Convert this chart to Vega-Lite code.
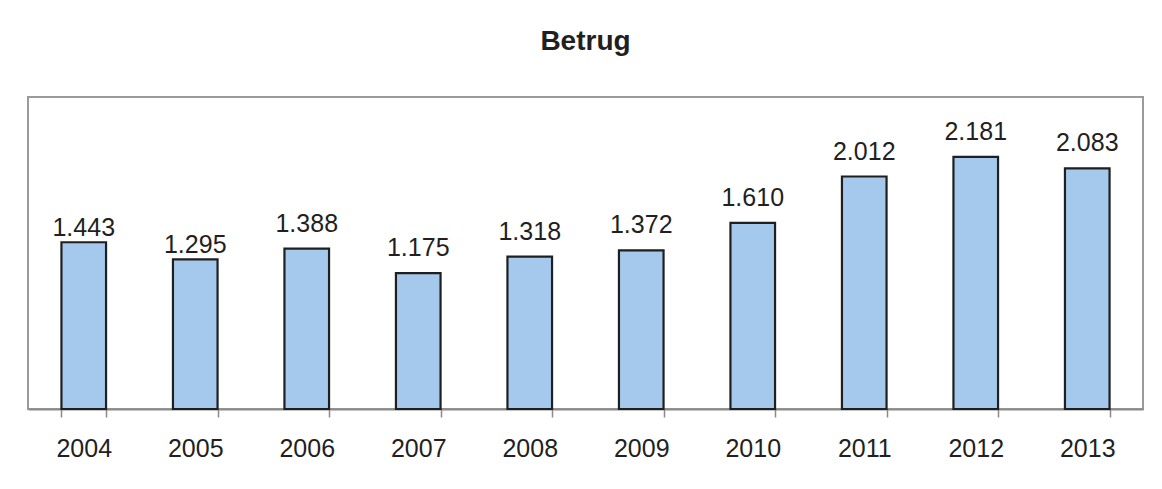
{
  "$schema": "https://vega.github.io/schema/vega-lite/v6.json",
  "width": 1115,
  "height": 312,
  "autosize": "none",
  "padding": {"left": 28, "top": 97, "right": 19, "bottom": 80},
  "background": "white",
  "config": {
    "font": "Liberation Sans",
    "locale": {"number": {"decimal": ",", "thousands": ".", "grouping": [3], "currency": ["", " €"]}},
    "view": {"stroke": "#9a9a9a", "strokeWidth": 2}
  },
  "title": {
    "text": "Betrug",
    "fontSize": 28,
    "fontWeight": "bold",
    "color": "#231f20",
    "anchor": "middle",
    "baseline": "bottom",
    "offset": 13
  },
  "data": {
    "values": [
      {"year": "2004", "value": 1443},
      {"year": "2005", "value": 1295},
      {"year": "2006", "value": 1388},
      {"year": "2007", "value": 1175},
      {"year": "2008", "value": 1318},
      {"year": "2009", "value": 1372},
      {"year": "2010", "value": 1610},
      {"year": "2011", "value": 2012},
      {"year": "2012", "value": 2181},
      {"year": "2013", "value": 2083}
    ]
  },
  "encoding": {
    "x": {
      "field": "year",
      "type": "ordinal",
      "scale": {"paddingInner": 0.6, "paddingOuter": 0.3},
      "axis": {
        "title": null,
        "labelAngle": 0,
        "labelFontSize": 25,
        "labelColor": "#231f20",
        "labelPadding": 19,
        "tickBand": "extent",
        "tickSize": 8,
        "tickColor": "#8a8a8a",
        "tickWidth": 1.5,
        "domainColor": "#8a8a8a",
        "domainWidth": 2
      }
    },
    "y": {
      "field": "value",
      "type": "quantitative",
      "scale": {"domain": [0, 2700], "nice": false, "zero": true},
      "axis": null
    }
  },
  "layer": [
    {
      "mark": {"type": "bar", "fill": "#a5c9ec", "stroke": "#1f1f1f", "strokeWidth": 2.2}
    },
    {
      "transform": [{"filter": "datum.year === '2004' || datum.year === '2005'"}],
      "mark": {"type": "text", "baseline": "alphabetic", "dy": -6, "fontSize": 25, "color": "#231f20"},
      "encoding": {"text": {"field": "value", "type": "quantitative", "format": ","}}
    },
    {
      "transform": [{"filter": "datum.year !== '2004' && datum.year !== '2005'"}],
      "mark": {"type": "text", "baseline": "alphabetic", "dy": -17, "fontSize": 25, "color": "#231f20"},
      "encoding": {"text": {"field": "value", "type": "quantitative", "format": ","}}
    }
  ]
}
